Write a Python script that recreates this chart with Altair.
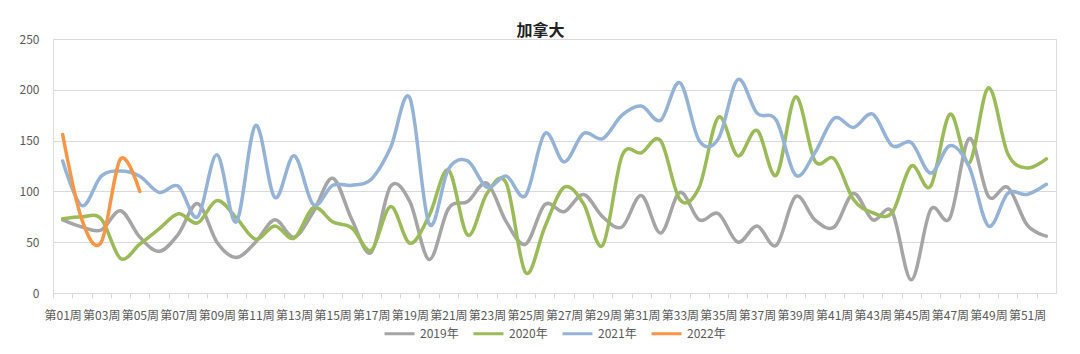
import altair as alt
import pandas as pd

weeks = list(range(1, 53))
y2019 = [72, 65, 62, 81, 55, 41, 58, 88, 50, 35, 50, 72, 55, 80, 113, 72, 40, 105, 90, 33,
         83, 90, 108, 70, 48, 87, 80, 97, 75, 65, 96, 59, 99, 72, 78, 50, 66, 47, 95, 72,
         65, 98, 72, 80, 13, 82, 74, 152, 95, 104, 67, 56]
y2020 = [73, 75, 73, 34, 48, 63, 78, 69, 91, 74, 53, 66, 54, 84, 70, 64, 42, 85, 49, 76,
         121, 57, 98, 108, 20, 65, 104, 88, 47, 135, 138, 150, 92, 104, 173, 135, 160, 116, 193, 130,
         132, 92, 79, 79, 125, 105, 176, 128, 202, 137, 123, 132]
y2021 = [130, 86, 115, 120, 115, 99, 105, 75, 136, 70, 165, 94, 135, 87, 106, 106, 112, 143, 192, 68,
         122, 130, 104, 115, 96, 157, 129, 157, 152, 175, 184, 170, 207, 150, 152, 210, 177, 170, 116, 138,
         172, 163, 176, 145, 148, 118, 145, 124, 66, 98, 97, 107]
y2022 = [156, 72, 50, 132, 100]

series = ["2019年", "2020年", "2021年", "2022年"]
colors = ["#A5A5A5", "#9BBB59", "#95B3D7", "#F79646"]
y_ticks = [0, 50, 100, 150, 200, 250]

rows = []
for name, vals in zip(series, [y2019, y2020, y2021, y2022]):
    for w, v in zip(weeks, vals):
        rows.append({"week": w, "value": v, "series": name})
df = pd.DataFrame(rows)

FONT = "Noto Sans CJK SC"

chart = alt.Chart(df).mark_line(interpolate="cardinal", strokeWidth=3.5, strokeCap="round").encode(
    x=alt.X("week:Q",
            scale=alt.Scale(domain=[0.5, 52.5], nice=False, zero=False),
            axis=alt.Axis(values=weeks, title=None, grid=False,
                          labelExpr="datum.value % 2 == 1 ? '第' + (datum.value < 10 ? '0' : '') + datum.value + '周' : ''",
                          labelOverlap=False, labelFlush=False,
                          tickOffset=-9.65, labelOffset=9.65,
                          tickColor="#D9D9D9", tickSize=5, domainColor="#D9D9D9",
                          labelFont=FONT, labelFontSize=12, labelColor="#595959",
                          labelPadding=12)),
    y=alt.Y("value:Q",
            scale=alt.Scale(domain=[0, 250], nice=False),
            axis=alt.Axis(values=y_ticks, title=None, domain=False, ticks=False,
                          gridColor="#D9D9D9", labelFont=FONT, labelFontSize=12,
                          labelColor="#595959", labelPadding=14)),
    color=alt.Color("series:N",
                    scale=alt.Scale(domain=series, range=colors),
                    legend=alt.Legend(title=None, orient="none", direction="horizontal",
                                      legendX=330, legendY=278,
                                      symbolType="stroke", symbolSize=900, symbolStrokeWidth=3,
                                      labelFont=FONT, labelFontSize=12, labelColor="#595959",
                                      columnPadding=8)),
).properties(
    width=1003,
    height=254,
    title=alt.TitleParams("加拿大", font=FONT, fontSize=16, fontWeight="bold",
                          color="#222222", anchor="middle", dx=-14, dy=10, offset=4),
    autosize=alt.AutoSizeParams(type="none"),
    padding={"left": 53, "top": 39, "right": 24, "bottom": 61},
).configure_view(stroke=None).configure(background="white")

chart.save("out.html", embed_options={"renderer": "svg", "actions": False})
